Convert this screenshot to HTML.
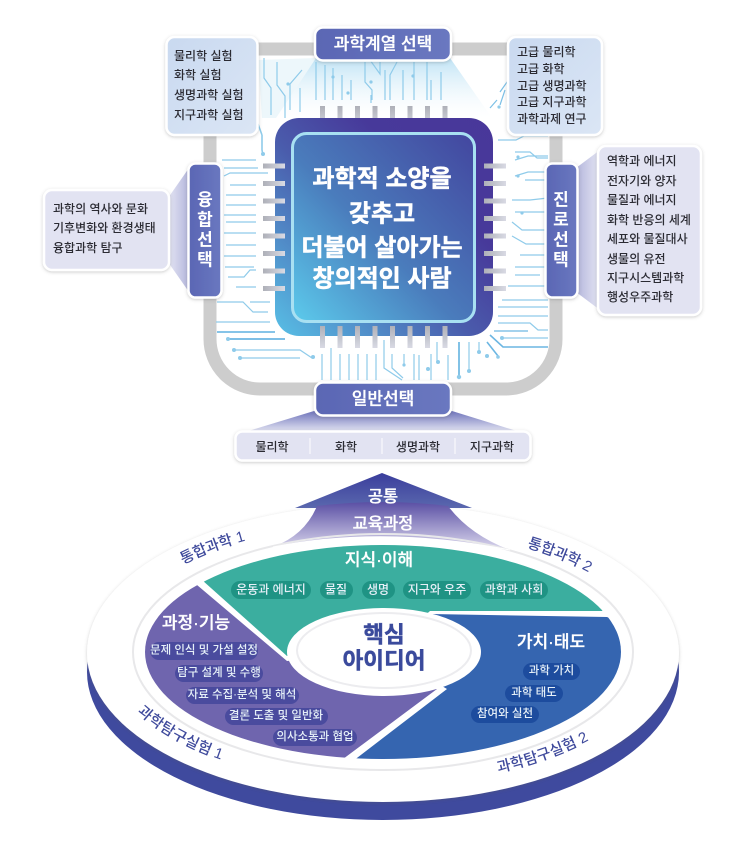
<!DOCTYPE html>
<html lang="ko"><head><meta charset="utf-8"><title>과학과 교육과정</title>
<style>
html,body{margin:0;padding:0;background:#fff;width:743px;height:848px;overflow:hidden}
svg{display:block}
text{font-family:"Liberation Sans","Noto Sans CJK KR",sans-serif;dominant-baseline:central}
.c{text-anchor:middle}
.b{font-size:12px;font-weight:500;fill:#2b2b33}
.w{fill:#fff;font-weight:700}
.m{fill:#fff;font-weight:500;stroke:#fff;stroke-width:.3}
.p{font-size:12px;font-weight:500;fill:#e6f0f8;text-anchor:middle}
.l{font-size:15px;font-weight:500;fill:#3f4a9c;text-anchor:middle}
</style></head><body>
<svg width="743" height="848" viewBox="0 0 743 848" xmlns="http://www.w3.org/2000/svg">
<defs>
<linearGradient id="chip" x1="0" y1="1" x2="1" y2="0"><stop offset="0" stop-color="#5ccbec"/><stop offset=".45" stop-color="#4a7cbc"/><stop offset="1" stop-color="#43469f"/></linearGradient>
<linearGradient id="chipO" x1="0" y1="1" x2="1" y2="0"><stop offset="0" stop-color="#58c0e6"/><stop offset=".45" stop-color="#4a5cac"/><stop offset=".7" stop-color="#47399a"/><stop offset="1" stop-color="#49379a"/></linearGradient>
<linearGradient id="lab" x1="0" y1="0" x2="1" y2="0"><stop offset="0" stop-color="#5a66b4"/><stop offset="1" stop-color="#6a78c0"/></linearGradient>
<linearGradient id="fade" x1="0" y1="0" x2="0" y2="1"><stop offset="0" stop-color="#bfe3f5"/><stop offset="1" stop-color="#fff" stop-opacity=".2"/></linearGradient>
<linearGradient id="tri" x1="0" y1="0" x2="0" y2="1"><stop offset="0" stop-color="#6f74bb"/><stop offset="1" stop-color="#e6e7f4"/></linearGradient>
<linearGradient id="triL" x1="1" y1="0" x2="0" y2="0"><stop offset="0" stop-color="#b4b6dc"/><stop offset="1" stop-color="#e5e6f4"/></linearGradient>
<linearGradient id="triR" x1="0" y1="0" x2="1" y2="0"><stop offset="0" stop-color="#b4b6dc"/><stop offset="1" stop-color="#e5e6f4"/></linearGradient>
<linearGradient id="pin" x1="0" y1="0" x2="0" y2="1"><stop offset="0" stop-color="#aeb0b8"/><stop offset="1" stop-color="#d9dae4"/></linearGradient>
<linearGradient id="pinH" x1="0" y1="0" x2="1" y2="0"><stop offset="0" stop-color="#aeb0b8"/><stop offset="1" stop-color="#d9dae4"/></linearGradient>
<linearGradient id="box" x1="0" y1="0" x2="1" y2="1"><stop offset="0" stop-color="#c9d9f0"/><stop offset="1" stop-color="#dbe6f5"/></linearGradient>
<linearGradient id="arrow" x1="0" y1="0" x2="0" y2="1"><stop offset="0" stop-color="#3a3d9c"/><stop offset="1" stop-color="#5a68ae"/></linearGradient>
<linearGradient id="band" x1="0" y1="0" x2="0" y2="1"><stop offset="0" stop-color="#5a4fa4"/><stop offset="1" stop-color="#dcd9ee"/></linearGradient>
<filter id="sh" x="-10%" y="-10%" width="120%" height="120%"><feDropShadow dx="0" dy="1" stdDeviation="1.5" flood-color="#555" flood-opacity=".3"/></filter>
<filter id="soft" x="-5%" y="-5%" width="110%" height="110%"><feGaussianBlur stdDeviation=".35"/></filter>
<clipPath id="inner"><ellipse cx="383" cy="652" rx="238" ry="107"/></clipPath>
<clipPath id="rimc"><rect x="0" y="662" width="743" height="186"/></clipPath>
<path id="t1" d="M150,579A273 128 0 0 1 280,527.500"/>
<path id="t2" d="M492,533.600A273 128 0 0 1 622,589"/>
<path id="t3" d="M125,691A273 132 0 0 0 245,762"/>
<path id="t4" d="M470,773A273 132 0 0 0 610,721"/>
</defs>

<!-- frame -->
<rect x="210" y="49" width="346" height="340" rx="50" fill="none" stroke="#cdcdcd" stroke-width="13"/>
<polygon points="316,58 450,58 492,118 276,118" fill="url(#fade)"/>
<polygon points="258,60 262,118 276,118 316,58" fill="#e6f3fa" opacity=".7"/>

<!-- circuits -->
<g filter="url(#soft)" fill="none" stroke="#8fcbea" stroke-width="1.2">
<path d="M264,58V78L271,88V115M277,62V85L285,96V118M302,70L290,84V110M300,88V112"/>
<path d="M316,62V100M325,65V100M333,68V100M342,75V100M351,80V100M365,62V82L372,90V100M371,95V103M380,62V74L370,60M385,70V100M397,62L390,75V100M403,70V100M414,62V100M427,62V100M431,80V100M441,72V100"/>
<path d="M262,135V150L263,155M258,124L262,135" stroke-width="1.6"/>
<path d="M222,160H256M224,168H258M224,176L230,173H268M230,185H256M226,195H256M226,205H256M224,215H256M226,222H256M224,233H256M226,245H256M224,256H256M225,267H254M228,277H244L250,270H256M236,287H256"/>
<path d="M217,302H243L253,312H268M250,302H270M216,322H270" />
<path d="M217,332H275" stroke-width="1.8" stroke="#74bce4"/>
<path d="M228,339H285" stroke-width="1.8" stroke="#6cb6e2"/>
<path d="M234,350H300L312,358M240,358H300"/>
<path d="M322,354V380M331,348V380M340,354V380M349,354V380M358,354V380M367,354V380M376,354V380"/>
<path d="M384,340V368L402,380M392,354V368L403,378M404,354V365M414,354V380M419,355V380M437,342V362M431,354V380"/>
<path d="M448,355V380"/>
<path d="M459,342V376" stroke-width="1.8" stroke="#74bce4"/>
<path d="M469,342V370M479,342V351"/>
<path d="M490,335L503,347H548M487,342L498,356" stroke="#6cb6e2" stroke-width="1.6"/>
<path d="M494,331H528" stroke="#6cb6e2"/>
<path d="M502,338H548"/>
<path d="M498,323H530L538,330H548M498,316H548M498,307H548M502,300H548"/>
<path d="M498,140H516L524,136H548M515,152H530L537,158H548M515,160L528,156H548M525,180H548M515,176L528,172H548M512,200H530L548,198M515,212H548M512,222L522,230H548M512,236L526,244H548M520,255H548M515,275H540M508,286H546M515,267H548" />
<path d="M500,105L505,90M512,75L500,92M497,100L490,108" stroke="#7cc0e6"/>
</g>
<g fill="#8fcbea">
<circle cx="263" cy="154" r="2"/><circle cx="288" cy="84" r="1.6"/><circle cx="333" cy="77" r="1.6"/><circle cx="348" cy="93" r="1.6"/><circle cx="371" cy="82" r="1.6"/><circle cx="413" cy="76" r="1.6"/><circle cx="499" cy="107" r="1.6"/><circle cx="510" cy="107" r="1.6"/><circle cx="228" cy="339" r="2"/><circle cx="234" cy="350" r="2"/><circle cx="240" cy="358" r="2"/><circle cx="313" cy="357" r="2"/><circle cx="404" cy="365" r="1.6"/><circle cx="438" cy="362" r="2"/><circle cx="428" cy="369" r="2"/><circle cx="459" cy="377" r="2.200"/><circle cx="469" cy="371" r="2"/><circle cx="479" cy="352" r="2"/><circle cx="498" cy="357" r="1.800"/><circle cx="487" cy="356" r="2"/><circle cx="502" cy="338" r="2"/><circle cx="518" cy="157" r="1.6"/><circle cx="518" cy="176" r="1.6"/><circle cx="522" cy="213" r="1.6"/></g>

<!-- pins -->
<g fill="url(#pin)"><rect x="320" y="106" width="5" height="22"/><rect x="337.500" y="106" width="5" height="22"/><rect x="355" y="106" width="5" height="22"/><rect x="372.500" y="106" width="5" height="22"/><rect x="390" y="106" width="5" height="22"/><rect x="407.500" y="106" width="5" height="22"/><rect x="425" y="106" width="5" height="22"/><rect x="442.500" y="106" width="5" height="22"/></g>

<!-- chip -->
<rect x="275" y="118" width="218" height="218" rx="24" fill="url(#chipO)"/>
<rect x="292.500" y="133.500" width="182" height="188" rx="14" fill="url(#chip)" stroke="#a8e0f2" stroke-width="3"/>
<g fill="url(#pinH)">
<rect x="263" y="163.500" width="22" height="5"/><rect x="263" y="181" width="22" height="5"/><rect x="263" y="198.500" width="22" height="5"/><rect x="263" y="216" width="22" height="5"/><rect x="263" y="233.500" width="22" height="5"/><rect x="263" y="251" width="22" height="5"/><rect x="263" y="268.500" width="22" height="5"/><rect x="263" y="286" width="22" height="5"/>
<rect x="484" y="163.500" width="22" height="5"/><rect x="484" y="181" width="22" height="5"/><rect x="484" y="198.500" width="22" height="5"/><rect x="484" y="216" width="22" height="5"/><rect x="484" y="233.500" width="22" height="5"/><rect x="484" y="251" width="22" height="5"/><rect x="484" y="268.500" width="22" height="5"/><rect x="484" y="286" width="22" height="5"/></g>
<g fill="url(#pin)"><rect x="320" y="326" width="5" height="22"/><rect x="337.500" y="326" width="5" height="22"/><rect x="355" y="326" width="5" height="22"/><rect x="372.500" y="326" width="5" height="22"/><rect x="390" y="326" width="5" height="22"/><rect x="407.500" y="326" width="5" height="22"/><rect x="425" y="326" width="5" height="22"/><rect x="442.500" y="326" width="5" height="22"/></g>
<g font-size="24" stroke="#fff" stroke-width=".5">
<text class="c w" x="382" y="179">과학적 소양을</text>
<text class="c w" x="382" y="214">갖추고</text>
<text class="c w" x="382" y="248">더불어 살아가는</text>
<text class="c w" x="382" y="279">창의적인 사람</text></g>

<!-- connector triangles -->
<polygon points="189,168 189,292 168,262 168,198" fill="url(#triL)"/>
<polygon points="576,168 576,292 600,310 600,150" fill="url(#triR)"/>
<polygon points="314,411 452,411 520,432 245,432" fill="url(#tri)"/>

<!-- labels -->
<g filter="url(#sh)" stroke="#fff" stroke-width="2.500">
<rect x="315" y="27.500" width="136" height="33" rx="8" fill="url(#lab)"/>
<rect x="315" y="382.500" width="136" height="33" rx="8" fill="url(#lab)"/>
<rect x="188.500" y="163.500" width="33" height="134" rx="7" fill="url(#lab)"/>
<rect x="545.500" y="163.500" width="32" height="134" rx="7" fill="url(#lab)"/>
<rect x="166.500" y="37" width="91" height="98" rx="8" fill="url(#box)"/>
<rect x="508" y="37" width="94" height="98" rx="8" fill="url(#box)"/>
<rect x="44" y="190" width="125" height="80" rx="8" fill="#e2e3f2"/>
<rect x="598" y="146" width="103" height="169" rx="8" fill="#e2e3f2"/>
<rect x="235.500" y="431.500" width="295" height="29" rx="7" fill="#e2e3f2"/>
</g>
<g stroke="#f5f5fb" stroke-width="1.5"><line x1="310" y1="438" x2="310" y2="454"/><line x1="382" y1="438" x2="382" y2="454"/><line x1="455" y1="438" x2="455" y2="454"/></g>

<text class="c m" x="383" y="44" font-size="17">과학계열 선택</text>
<text class="c m" x="383" y="399" font-size="17">일반선택</text>
<g font-size="17">
<text class="c w" x="205" y="200">융</text><text class="c w" x="205" y="220">합</text><text class="c w" x="205" y="240">선</text><text class="c w" x="205" y="260">택</text>
<text class="c w" x="561" y="200">진</text><text class="c w" x="561" y="220">로</text><text class="c w" x="561" y="240">선</text><text class="c w" x="561" y="260">택</text></g>

<text class="b" x="174" y="56">물리학 실험</text><text class="b" x="174" y="75">화학 실험</text><text class="b" x="174" y="95">생명과학 실험</text><text class="b" x="174" y="115">지구과학 실험</text>
<text class="b" x="517" y="52">고급 물리학</text><text class="b" x="517" y="69">고급 화학</text><text class="b" x="517" y="86">고급 생명과학</text><text class="b" x="517" y="102">고급 지구과학</text><text class="b" x="517" y="119">과학과제 연구</text>
<text class="b" x="53" y="209">과학의 역사와 문화</text><text class="b" x="53" y="228">기후변화와 환경생태</text><text class="b" x="53" y="248">융합과학 탐구</text>
<text class="b" x="607" y="161">역학과 에너지</text><text class="b" x="607" y="181">전자기와 양자</text><text class="b" x="607" y="200">물질과 에너지</text><text class="b" x="607" y="220">화학 반응의 세계</text><text class="b" x="607" y="239">세포와 물질대사</text><text class="b" x="607" y="259">생물의 유전</text><text class="b" x="607" y="278">지구시스템과학</text><text class="b" x="607" y="297">행성우주과학</text>
<text class="b c" x="272" y="447">물리학</text><text class="b c" x="346" y="447">화학</text><text class="b c" x="418" y="447">생명과학</text><text class="b c" x="492" y="447">지구과학</text>

<!-- disc -->
<g clip-path="url(#rimc)"><ellipse cx="383" cy="672" rx="296" ry="148" fill="#3f4a9e"/></g>
<ellipse cx="383" cy="653" rx="296" ry="149" fill="#fff" filter="url(#sh)"/>

<!-- top arrow -->
<polygon points="382,473 472,508 295,508" fill="url(#arrow)"/>
<path d="M317,506Q305,535 273,547Q383,525 510,550Q470,535 448,506Q383,498 317,506Z" fill="url(#band)"/>

<ellipse cx="383" cy="652" rx="250" ry="118" fill="none" stroke="#e8e8ea" stroke-width="2"/>
<path d="M273,547Q383,525 510,550" fill="none" stroke="#fff" stroke-width="1"/>
<g clip-path="url(#inner)">
<polygon points="202,580 287,656 384,652 430,611 602,611 660,560 500,520 250,520" fill="#3bae9f"/>
<polygon points="197,585 170,598 100,640 120,790 343,759 437,689 384,652 287,661" fill="#6f65ae"/>
<polygon points="430,614 607,617 660,640 660,800 353,761 447,689 384,652" fill="#3565b0"/>
</g>
<text class="c m" x="383" y="497" font-size="16.500">공통</text>
<text class="c m" x="383" y="524" font-size="16.500">교육과정</text>
<ellipse cx="384" cy="652" rx="97" ry="44" fill="#fff"/>
<ellipse cx="384" cy="650.500" rx="87" ry="37.500" fill="none" stroke="#ececef" stroke-width="2"/>

<text class="c" x="384" y="635" font-size="22.500" font-weight="700" fill="#3a4a9c" stroke="#3a4a9c" stroke-width=".5">핵심</text>
<text class="c" x="384" y="661" font-size="22.500" font-weight="700" fill="#3a4a9c" stroke="#3a4a9c" stroke-width=".5">아이디어</text>

<text class="c m" x="379" y="560" font-size="17">지식·이해</text>
<text class="c m" x="196" y="623" font-size="17">과정·기능</text>
<text class="c m" x="551" y="642" font-size="17">가치·태도</text>

<g fill="#1f9384">
<rect x="231" y="581" width="80" height="18" rx="9"/><rect x="320" y="581" width="33" height="18" rx="9"/><rect x="362" y="581" width="33" height="18" rx="9"/><rect x="403" y="581" width="68" height="18" rx="9"/><rect x="480" y="581" width="68" height="18" rx="9"/></g>
<text class="p" x="271" y="589.500">운동과 에너지</text><text class="p" x="336" y="589.500">물질</text><text class="p" x="378" y="589.500">생명</text><text class="p" x="437" y="589.500">지구와 우주</text><text class="p" x="514" y="589.500">과학과 사회</text>

<g fill="#4a4b9e">
<rect x="150" y="642" width="108" height="18" rx="9"/><rect x="175" y="665" width="88" height="17" rx="8.500"/><rect x="186" y="687" width="113" height="17" rx="8.500"/><rect x="225" y="708" width="103" height="17" rx="8.500"/><rect x="273" y="729" width="84" height="17" rx="8.500"/></g>
<text class="p" x="204" y="650.500" style="font-size:11.500px">문제 인식 및 가설 설정</text><text class="p" x="219" y="673" style="font-size:11.500px">탐구 설계 및 수행</text><text class="p" x="242" y="695" style="font-size:11.500px">자료 수집·분석 및 해석</text><text class="p" x="276" y="716" style="font-size:11.500px">결론 도출 및 일반화</text><text class="p" x="315" y="737" style="font-size:11.500px">의사소통과 협업</text>

<g fill="#1d4c9e">
<rect x="523" y="663" width="57" height="17" rx="8.500"/><rect x="505" y="685" width="58" height="17" rx="8.500"/><rect x="471" y="706" width="68" height="17" rx="8.500"/></g>
<text class="p" x="551.500" y="671" style="font-size:11.500px">과학 가치</text><text class="p" x="534" y="693" style="font-size:11.500px">과학 태도</text><text class="p" x="505" y="714" style="font-size:11.500px">참여와 실천</text>

<text class="l"><textPath href="#t1" startOffset="50%">통합과학 1</textPath></text>
<text class="l"><textPath href="#t2" startOffset="50%">통합과학 2</textPath></text>
<text class="l"><textPath href="#t3" startOffset="50%">과학탐구실험 1</textPath></text>
<text class="l"><textPath href="#t4" startOffset="50%">과학탐구실험 2</textPath></text>
</svg>
</body></html>
